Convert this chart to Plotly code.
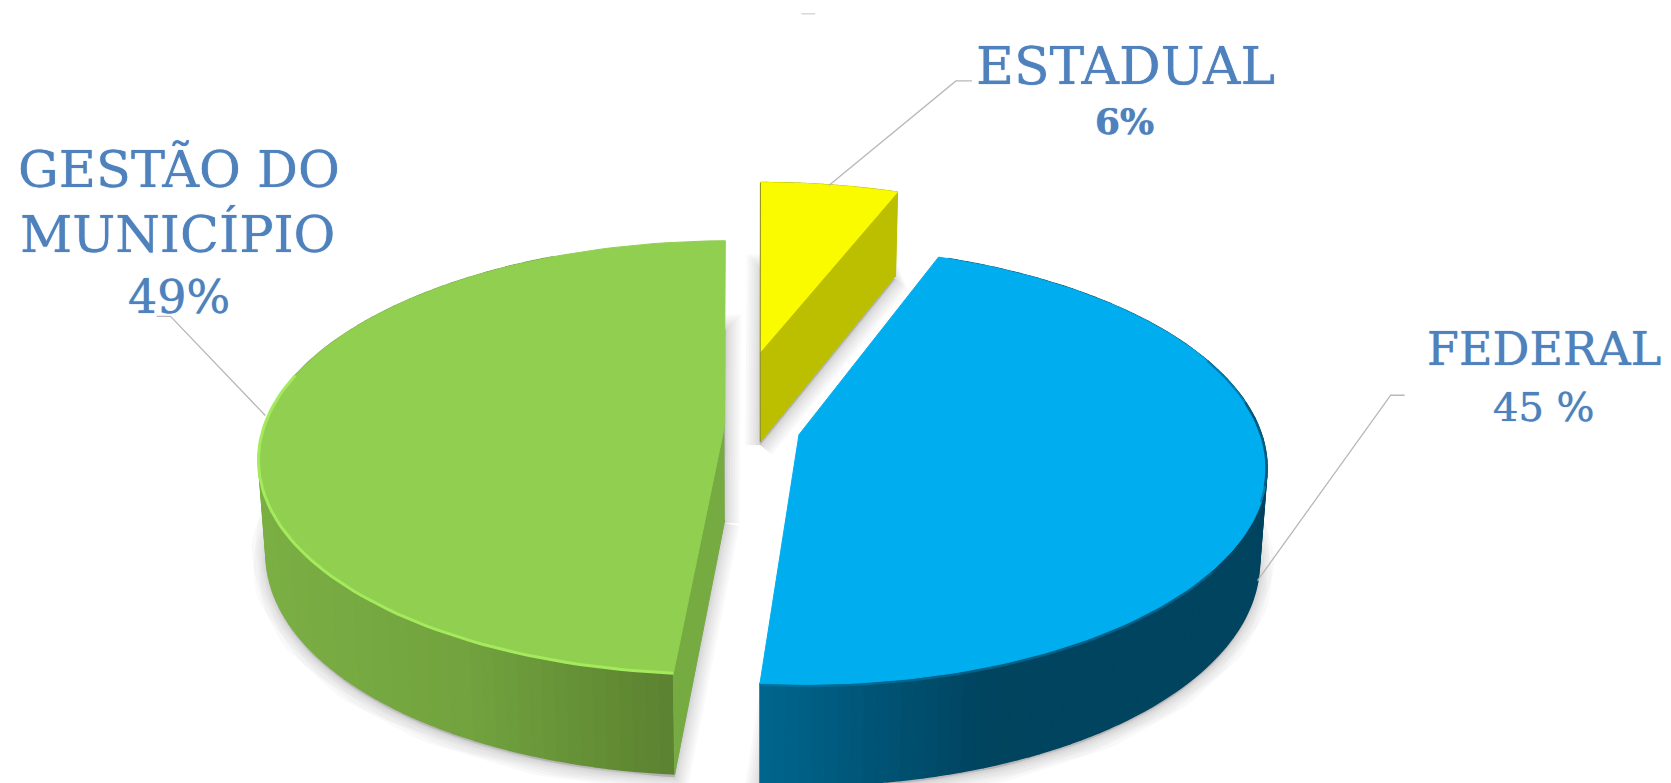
import numpy as np
import plotly.graph_objects as go

# --- data ---
categories = ["ESTADUAL", "FEDERAL", "GESTÃO DO MUNICÍPIO"]
values = [6, 45, 49]
label_lines = [["ESTADUAL", "6%"], ["FEDERAL", "45 %"], ["GESTÃO DO", "MUNICÍPIO", "49%"]]

# --- styling and layout (axis units are the 1568x735 picture) ---
W, H = 1568, 735
CX, CY = 715, 401
A, B, K = 432, 199.5, 0.14
DEPTH, DEPTH_K = 87, 0.08
BOTTOM_SHRINK = 0.015
offsets = [(-0.004, 0.372), (0.08, -0.035), (-0.082, 0.0)]
edge_nudge_deg = [0, -1.0, 1.2, -0.5]   # small view distortion of the slice boundaries
top_colors = ["#fbfb00", "#00aeef", "#90cf50"]
cut_colors = ["#bcbf00", None, "#76ab42"]
wall_stops = [
    [(0, "#bcbf00"), (1, "#bcbf00")],
    [(0, "#00668f"), (0.45, "#00445f"), (1, "#00445f")],
    [(0, "#7bb044"), (0.45, "#72a33f"), (1, "#567a2d")],
]
TEXT = "#4f81bd"
FONT = "DejaVu Serif"


def project(u, v, z=0.0):
    d = 1 + K * v
    x = CX + A * u / d * (1 - BOTTOM_SHRINK * z)
    y = CY - B * v / d + z * DEPTH / (1 + DEPTH_K * v)
    return x, y


def rgb(h):
    return np.array([int(h[i:i + 2], 16) for i in (1, 3, 5)], float)


def gradient(stops, f):
    f = min(max(f, 0), 1)
    for (a, ca), (b, cb) in zip(stops, stops[1:]):
        if f <= b:
            t = (f - a) / (b - a)
            c = rgb(ca) * (1 - t) + rgb(cb) * t
            return "rgb(%d,%d,%d)" % tuple(c)
    return stops[-1][1]


def poly(xs, ys, fill=None, line=None, width=0):
    closed = fill is not None
    return go.Scatter(
        x=list(xs), y=list(ys), mode="lines",
        fill="toself" if closed else None,
        fillcolor=fill,
        line=dict(color=line or "rgba(0,0,0,0)", width=width),
        hoverinfo="skip", showlegend=False,
    )


fig = go.Figure()
edges = np.cumsum([0] + values) / sum(values) * 2 * np.pi + np.radians(edge_nudge_deg)
slices = []
for i, (cat, ou_v) in enumerate(zip(categories, offsets)):
    t = np.linspace(edges[i], edges[i + 1], 120)
    slices.append((t, ou_v[0] + np.sin(t), ou_v[1] + np.cos(t), ou_v))

# soft shadow under every slice
for t, u, v, (ou, ov) in slices:
    bx, by = project(np.r_[ou, u, ou], np.r_[ov, v, ov], 1.0)
    for w in (30, 25, 20, 15, 10, 6, 3):
        fig.add_trace(poly(bx, by + 3, "rgba(0,0,0,0.022)", "rgba(0,0,0,0.022)", w))

for i, (t, u, v, (ou, ov)) in enumerate(slices):
    tx, ty = project(u, v, 0.0)
    bx, by = project(u, v, 1.0)
    lo, hi = tx.min(), tx.max()
    # outer wall, back to front
    for j in np.argsort(-v[:-1]):
        if v[j] > 0.9 and i != 0:
            continue
        f = (0.5 * (tx[j] + tx[j + 1]) - lo) / (hi - lo)
        col = gradient(wall_stops[i], f)
        fig.add_trace(poly([tx[j], tx[j + 1], bx[j + 1], bx[j]],
                           [ty[j], ty[j + 1], by[j + 1], by[j]], col, col, 1.5))
    # radial cut face that faces the viewer
    ax0, ay0 = project(ou, ov, 0.0)
    ax1, ay1 = project(ou, ov, 1.0)
    if cut_colors[i]:
        k = -1 if i == 0 else 0
        fig.add_trace(poly([ax0, tx[k], bx[k], ax1], [ay0, ty[k], by[k], ay1],
                           cut_colors[i], cut_colors[i], 1))
    # top face
    fig.add_trace(poly(np.r_[ax0, tx, ax0], np.r_[ay0, ty, ay0], top_colors[i], top_colors[i], 1))
    # rims
    if i == 2:
        m = t < np.radians(285)
        fig.add_trace(poly(tx[m], ty[m], None, "#a4ea5c", 3))
    if i == 1:
        m = (t > np.radians(68)) & (t < np.radians(108))
        fig.add_trace(poly(tx[m] - 0.5, ty[m], None, "rgba(0,70,100,0.45)", 2))
        m = (t > np.radians(80)) & (t < np.radians(104))
        fig.add_trace(poly(tx[m] - 0.5, ty[m], None, "rgba(0,70,100,0.6)", 2.5))
        m = t > np.radians(125)
        fig.add_trace(poly(tx[m], ty[m] + 1.5, None, "rgba(0,130,180,0.45)", 2.5))
    if i == 0:
        fig.add_trace(poly([ax0, tx[0]], [ay0, ty[0]], None, "#8a8a20", 1))
        fig.add_trace(poly([ax0, ax1], [ay0, ay1], None, "#8a8a20", 1))

# leader lines
leaders = [
    ([778, 897, 912], [174, 76, 76]),
    ([1180, 1305, 1318], [545, 371, 371]),
    ([249, 160, 147], [390, 297, 297]),
]
for lx, ly in leaders:
    fig.add_trace(poly(lx, ly, None, "#b8b8b8", 1.3))
fig.add_trace(poly([752, 765], [13, 13], None, "#c4c4c4", 1))

# labels: centre x, centre y, size, bold
label_pos = [
    [(1056, 62, 52, False), (1055, 114, 36, True)],
    [(1449, 328, 46, False), (1449, 382, 40, False)],
    [(168, 159, 51, False), (167, 220, 51, False), (168, 279, 46, False)],
]
for lines, pos in zip(label_lines, label_pos):
    for s, (x, y, size, bold) in zip(lines, pos):
        fig.add_annotation(x=x, y=y, text=f"<b>{s}</b>" if bold else s, showarrow=False,
                           xanchor="center", yanchor="middle",
                           font=dict(family=FONT, size=size, color=TEXT,
                                     shadow="0 0 1px #4f81bd"))

fig.update_layout(
    width=1671, height=783, margin=dict(l=0, r=0, t=0, b=0),
    paper_bgcolor="white", plot_bgcolor="white", showlegend=False,
    xaxis=dict(range=[0, W], visible=False, fixedrange=True),
    yaxis=dict(range=[H, 0], visible=False, fixedrange=True),
)
fig.write_html("out.html", config={"displayModeBar": False},
               post_script="document.body.style.margin='0';document.body.style.overflow='hidden';")
